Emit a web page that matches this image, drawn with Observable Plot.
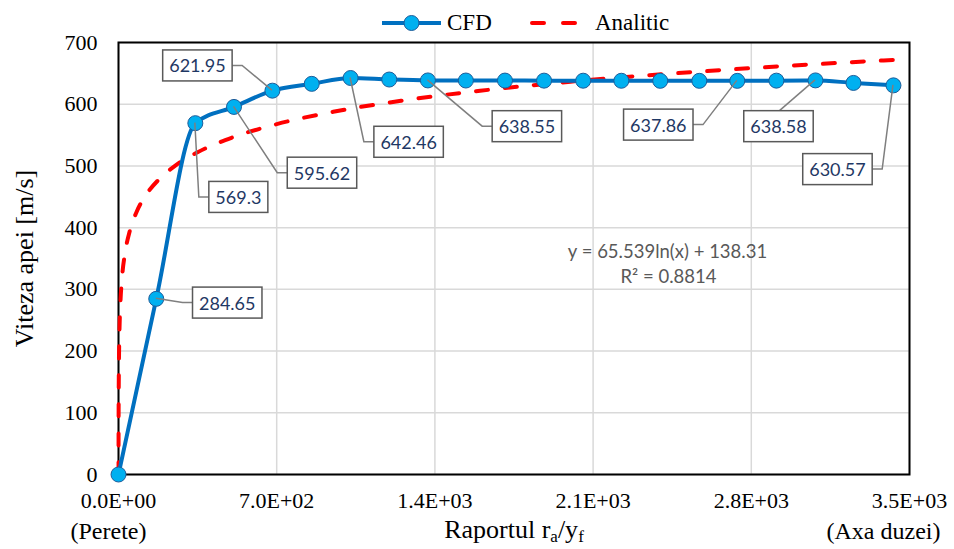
<!DOCTYPE html>
<html>
<head>
<meta charset="utf-8">
<script src="https://cdn.jsdelivr.net/npm/d3@7"></script>
<script src="https://cdn.jsdelivr.net/npm/@observablehq/plot@0.6"></script>
<style>
  body { margin: 0; background: #fff; }
  #wrap { position: relative; width: 954px; height: 549px; overflow: hidden; }
  #chart { position: absolute; left: 0; top: 0; }
  #legend { position: absolute; left: 340px; top: 6px; width: 368px; height: 34px; background: #fff;
            font-family: "Liberation Serif", serif; font-size: 23px; color: #000; }
  #legend > * { position: absolute; }
  #legend span { top: 0; height: 34px; line-height: 34px; white-space: nowrap; }
</style>
</head>
<body>
<div id="wrap">
  <div id="chart"></div>
  <div id="legend"></div>
</div>
<script>
// ---------- data ----------
const xTicks = [0, 700, 1400, 2100, 2800, 3500];
const xTickLabels = ["0.0E+00", "7.0E+02", "1.4E+03", "2.1E+03", "2.8E+03", "3.5E+03"];
const yTicks = [0, 100, 200, 300, 400, 500, 600, 700];

const cfdX = [0, 167, 340, 511, 681, 855, 1027, 1198, 1369, 1537, 1710, 1883, 2056, 2225, 2397, 2570, 2738, 2911, 3084, 3252, 3429];
const cfdY = [0, 284.65, 569.3, 595.62, 621.95, 633, 642.46, 640, 638.55, 638.4, 638.3, 638.2, 638.1, 638.0, 637.9, 637.9, 637.86, 638.2, 638.58, 634.5, 630.57];

const anX = [0.12, 0.3, 0.6, 1, 2, 4, 8, 15, 30, 50, 80, 120, 180, 250, 350, 500, 700, 950, 1250, 1600, 2000, 2450, 2950, 3429];
const anY = [0, 59.4, 104.8, 138.3, 183.7, 229.2, 274.6, 315.8, 361.2, 394.7, 425.5, 452.1, 478.6, 500.2, 522.2, 545.6, 567.7, 587.7, 605.6, 621.8, 636.5, 649.8, 661.9, 671.8];

const seriesNames = ["CFD", "Analitic"];
const labelIndex = [1, 2, 3, 4, 6, 8, 16, 18, 20];
const equationLines = ["y = 65.539ln(x) + 138.31", "R\u00b2 = 0.8814"];
const yTitle = "Viteza apei [m/s]";
const xTitle = "Raportul ra/yf";
const endLabelX = [0, 3500];
const endLabelText = ["(Perete)", "(Axa duzei)"];

// ---------- layout (styles, not data) ----------
const labelLayout = [
  {dx: 71, dy: 5, side: "left"},
  {dx: 43, dy: 75, side: "left"},
  {dx: 88, dy: 67, side: "left"},
  {dx: -75, dy: -24, side: "right"},
  {dx: 58, dy: 65, side: "left"},
  {dx: 99, dy: 47, side: "left"},
  {dx: -79, dy: 45, side: "right"},
  {dx: -37, dy: 47, side: "top"},
  {dx: -56, dy: 85, side: "right"}
];
const BLUE = "#0070C0", MARKER = "#00B0F0", MARKER_STROKE = "#1F5C99", RED = "#FF0000";
const LABEL_COLOR = "#1F3864", TITLE_COLOR = "#000001";
const SERIF = "Liberation Serif";

const cfd = cfdX.map((x, i) => ({x, y: cfdY[i]}));
const analytic = anX.map((x, i) => ({x, y: anY[i]}));

const plot = Plot.plot({
  width: 954,
  height: 549,
  marginLeft: 118,
  marginRight: 45,
  marginTop: 42,
  marginBottom: 75,
  style: {fontFamily: SERIF, fontSize: "22px", color: "#000", background: "#fff"},
  x: {domain: [0, 3500], ticks: xTicks, tickFormat: d => xTickLabels[xTicks.indexOf(d)], tickSize: 0, tickPadding: 18, label: null},
  y: {domain: [0, 700], ticks: yTicks, tickSize: 0, tickPadding: 21, label: null},
  marks: [
    Plot.ruleY(yTicks, {stroke: "#d9d9d9", strokeWidth: 1.5}),
    Plot.ruleX(xTicks, {stroke: "#d9d9d9", strokeWidth: 1.5}),
    Plot.frame({stroke: "#000", strokeWidth: 2}),
    Plot.line(analytic, {x: "x", y: "y", stroke: RED, strokeWidth: 4, strokeDasharray: "12,17", strokeLinecap: "round", curve: "monotone-x"}),
    Plot.line(cfd, {x: "x", y: "y", stroke: BLUE, strokeWidth: 4, curve: "monotone-x"}),
    Plot.dot(cfd, {x: "x", y: "y", r: 7.5, fill: MARKER, stroke: MARKER_STROKE, strokeWidth: 1}),
    ...labelIndex.map((idx, k) => Plot.text([idx], {
      x: j => cfdX[j], y: j => cfdY[j], text: j => String(cfdY[j]),
      dx: labelLayout[k].dx, dy: labelLayout[k].dy,
      textAnchor: "middle", lineAnchor: "middle",
      fontFamily: "Lato", fontSize: 18, fill: LABEL_COLOR
    })),
    Plot.text([equationLines[0]], {frameAnchor: "top-left", textAnchor: "middle", lineAnchor: "middle", dx: 549, dy: 210, fontFamily: "Lato", fontSize: 18.5, fill: "#595959"}),
    Plot.text([equationLines[1]], {frameAnchor: "top-left", textAnchor: "middle", lineAnchor: "middle", dx: 550, dy: 235, fontFamily: "Lato", fontSize: 18.5, fill: "#595959"}),
    Plot.text([yTitle], {frameAnchor: "left", textAnchor: "middle", lineAnchor: "middle", rotate: -90, dx: -94, fontSize: 26, fontFamily: SERIF, fill: "#000"}),
    Plot.text([xTitle], {frameAnchor: "bottom", textAnchor: "middle", lineAnchor: "middle", dy: 55, fontSize: 26, fontFamily: SERIF, fill: TITLE_COLOR}),
    Plot.text([0], {x: j => endLabelX[j], text: j => endLabelText[j], frameAnchor: "bottom", textAnchor: "middle", lineAnchor: "middle", dx: -10, dy: 57, fontSize: 24, fontFamily: SERIF, fill: "#000"}),
    Plot.text([1], {x: j => endLabelX[j], text: j => endLabelText[j], frameAnchor: "bottom", textAnchor: "middle", lineAnchor: "middle", dx: -26, dy: 57, fontSize: 24, fontFamily: SERIF, fill: "#000"})
  ]
});

document.getElementById("chart").append(plot);

// ---------- post-process: label boxes & leader lines ----------
const svgNode = plot.tagName.toLowerCase() === "svg" ? plot : plot.querySelector("svg");
const root = d3.select(svgNode);
const sx = plot.scale("x"), sy = plot.scale("y");
const labelTexts = Array.from(svgNode.querySelectorAll("text")).filter(t => {
  const g = t.closest("g");
  return g && g.getAttribute("fill") === LABEL_COLOR;
});
if (labelTexts.length) {
  const firstG = labelTexts[0].closest("g");
  const ns = "http://www.w3.org/2000/svg";
  const leaderNode = document.createElementNS(ns, "g");
  const boxNode = document.createElementNS(ns, "g");
  firstG.parentNode.insertBefore(leaderNode, firstG);
  firstG.parentNode.insertBefore(boxNode, firstG);
  const leaderG = d3.select(leaderNode), boxG = d3.select(boxNode);
  labelTexts.forEach((t, k) => {
    const bb = t.getBBox();
    const m = t.getCTM();
    const cx = bb.x + bb.width / 2 + m.e;
    const cy = bb.y + bb.height / 2 + m.f;
    const w = bb.width + 13, h = 31;
    const left = cx - w / 2, right = cx + w / 2, top = cy - h / 2;
    boxG.append("rect").attr("x", left).attr("y", top).attr("width", w).attr("height", h)
      .attr("fill", "#fff").attr("stroke", "#595959").attr("stroke-width", 1.5);
    const idx = labelIndex[k];
    const px = sx.apply(cfdX[idx]), py = sy.apply(cfdY[idx]);
    const side = labelLayout[k].side;
    let pts;
    if (side === "left") pts = [[px, py], [left - 10, cy], [left, cy]];
    else if (side === "right") pts = [[px, py], [right + 10, cy], [right, cy]];
    else pts = [[px, py], [cx + 1, top]];
    leaderG.append("path").attr("d", d3.line()(pts)).attr("fill", "none")
      .attr("stroke", "#7F7F7F").attr("stroke-width", 1.5);
  });
}

// x title with subscripts
const xtNode = Array.from(svgNode.querySelectorAll("text")).find(t => t.textContent === xTitle);
if (xtNode) {
  const xt = d3.select(xtNode);
  xt.text(null);
  xt.append("tspan").text("Raportul r");
  xt.append("tspan").attr("font-size", 17).attr("dy", 4).text("a");
  xt.append("tspan").attr("dy", -4).text("/y");
  xt.append("tspan").attr("font-size", 17).attr("dy", 4).text("f");
}

// ---------- legend ----------
const legend = d3.select("#legend");
const sw1 = legend.append("svg").attr("width", 62).attr("height", 20).style("left", "41px").style("top", "7px");
sw1.append("line").attr("x1", 1).attr("x2", 60).attr("y1", 10).attr("y2", 10).attr("stroke", BLUE).attr("stroke-width", 4);
sw1.append("circle").attr("cx", 30.5).attr("cy", 10).attr("r", 7.5).attr("fill", MARKER).attr("stroke", MARKER_STROKE).attr("stroke-width", 1);
legend.append("span").style("left", "107px").text(seriesNames[0]);
const sw2 = legend.append("svg").attr("width", 50).attr("height", 20).style("left", "189px").style("top", "7px");
sw2.append("line").attr("x1", 3).attr("x2", 47).attr("y1", 10).attr("y2", 10).attr("stroke", RED).attr("stroke-width", 4)
  .attr("stroke-dasharray", "12,19").attr("stroke-linecap", "round");
legend.append("span").style("left", "255px").text(seriesNames[1]);
</script>
</body>
</html>
